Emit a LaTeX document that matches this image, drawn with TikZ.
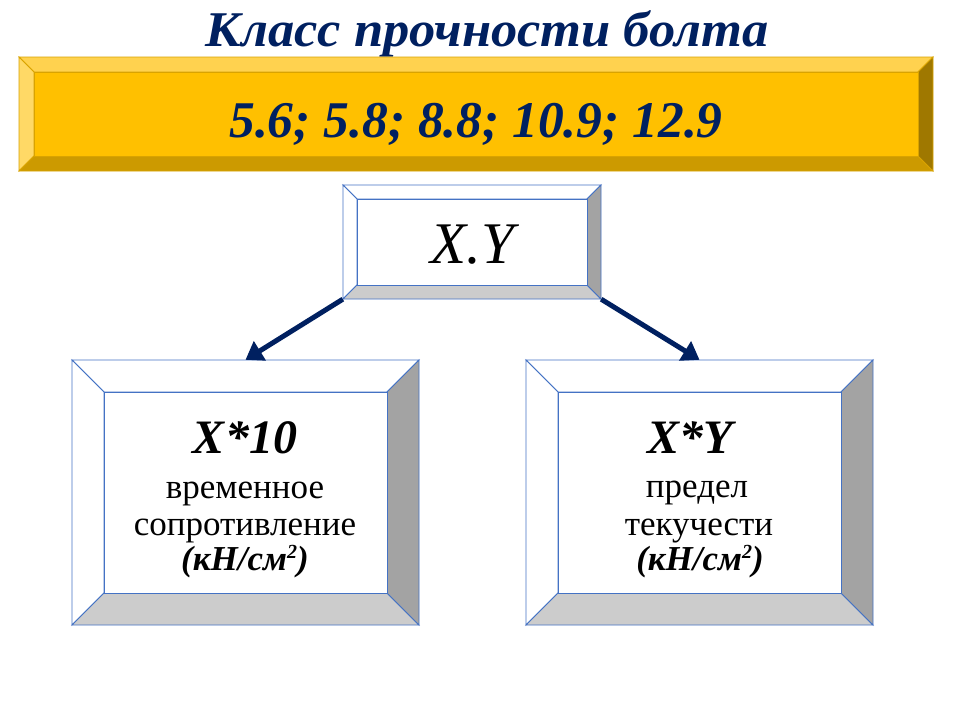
\documentclass[tikz,border=0pt]{standalone}
\usepackage{fontspec}
\setmainfont{Liberation Serif}
\usetikzlibrary{arrows.meta,fit}
\definecolor{navy}{HTML}{002060}
\definecolor{boxline}{HTML}{4472C4}
\definecolor{goldface}{HTML}{FFC000}
\definecolor{goldtop}{HTML}{FFD24F}
\definecolor{goldleft}{HTML}{FFD966}
\definecolor{goldbottom}{HTML}{CC9A00}
\definecolor{goldright}{HTML}{9F7800}
\definecolor{goldline}{HTML}{D9A300}
\definecolor{greyright}{HTML}{A3A3A3}
\definecolor{greybottom}{HTML}{CCCCCC}
\tikzset{
  gold face/.style={fill=goldface,draw=goldline,line width=0.8pt},
  gold top/.style={fill=goldtop,draw=goldline,line width=0.8pt},
  gold left/.style={fill=goldleft,draw=goldline,line width=0.8pt},
  gold bottom/.style={fill=goldbottom,draw=goldline,line width=0.8pt},
  gold right/.style={fill=goldright,draw=goldline,line width=0.8pt},
  plain face/.style={fill=white,draw=boxline,line width=0.9pt},
  plain top/.style={fill=white,draw=boxline,line width=0.9pt},
  plain left/.style={fill=white,draw=boxline,line width=0.9pt},
  plain bottom/.style={fill=greybottom,draw=boxline,line width=0.9pt},
  plain right/.style={fill=greyright,draw=boxline,line width=0.9pt},
  txt/.style={anchor=base,inner sep=0pt},
  body/.style={txt,font=\fontsize{35}{40}\selectfont},
  unit/.style={txt,font=\fontsize{35}{40}\selectfont\bfseries\itshape},
  head/.style={txt,font=\fontsize{48}{52}\selectfont\bfseries\itshape},
  link/.style={draw=navy,line width=5pt,-{Triangle[length=17pt,width=22pt]}}
}
\newcommand\sqsup{\raisebox{0.32em}{\fontsize{20}{22}\selectfont 2}}
% #1 name, #2 x1, #3 y1, #4 x2, #5 y2, #6 bevel, #7 theme
\newcommand\bevelbox[7]{%
  \path[#7 top] (#2,#3) -- (#4,#3) -- (#4-#6,#3+#6) -- (#2+#6,#3+#6) -- cycle;
  \path[#7 left] (#2,#3) -- (#2+#6,#3+#6) -- (#2+#6,#5-#6) -- (#2,#5) -- cycle;
  \path[#7 bottom] (#2,#5) -- (#2+#6,#5-#6) -- (#4-#6,#5-#6) -- (#4,#5) -- cycle;
  \path[#7 right] (#4,#3) -- (#4,#5) -- (#4-#6,#5-#6) -- (#4-#6,#3+#6) -- cycle;
  \path[#7 face] (#2+#6,#3+#6) rectangle (#4-#6,#5-#6);
  \coordinate (#1-nw) at (#2,#3);
  \coordinate (#1-se) at (#4,#5);
  \node[fit=(#1-nw)(#1-se),inner sep=0pt] (#1) {};
}
\begin{document}
\begin{tikzpicture}[x=1pt,y=-1pt]
\useasboundingbox (0,0) rectangle (960,720);
\fill[white] (0,0) rectangle (960,720);

\node[txt,text=navy,font=\fontsize{50}{56}\selectfont\bfseries\itshape] (title) at (487,46) {\scalebox{1.05}[1]{Класс прочности болта}};

\bevelbox{gold}{19}{57}{933}{171}{15}{gold}
\node[txt,text=navy,font=\fontsize{51.5}{56}\selectfont\bfseries\itshape] (grades) at (476,137) {5.6; 5.8; 8.8; 10.9; 12.9};

\bevelbox{xy}{343}{185}{601}{299}{14}{plain}
\node[txt,font=\fontsize{59}{62}\selectfont\itshape] (xytext) at (472,263) {X.Y};

\bevelbox{lbox}{72}{360}{419}{625}{32}{plain}
\node[head] (l1) at (245,453) {X*10};
\node[body] (l2) at (245,498) {временное};
\node[body] (l3) at (245,535) {сопротивление};
\node[unit] (l4) at (245,570) {(кН/см\sqsup)};

\bevelbox{rbox}{526}{360}{873}{625}{32}{plain}
\node[head] (r1) at (690,453) {X*Y};
\node[body] (r2) at (697,497) {предел};
\node[body] (r3) at (699,535) {текучести};
\node[unit] (r4) at (700,570) {(кН/см\sqsup)};

\draw[link] (xy.south west) -- (lbox.north);
\draw[link] (xy.south east) -- (rbox.north);
\end{tikzpicture}
\end{document}
